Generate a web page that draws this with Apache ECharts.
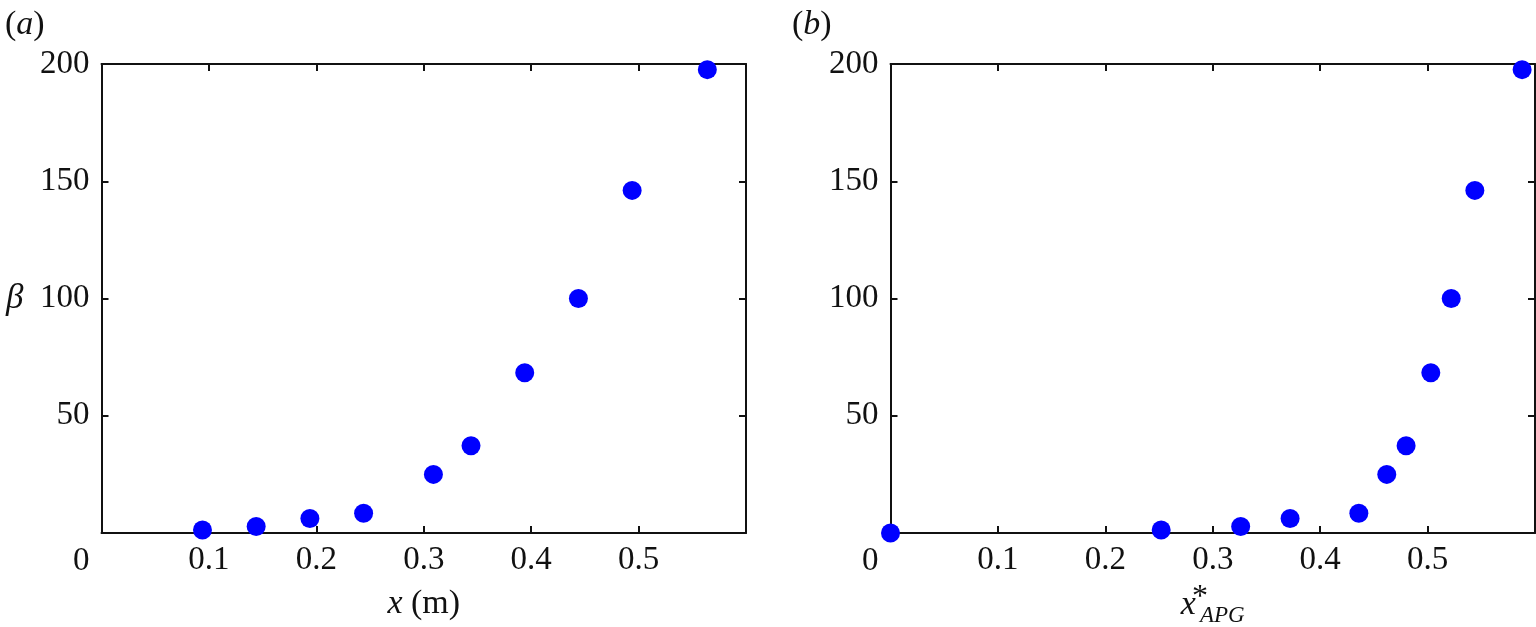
<!DOCTYPE html>
<html lang="en">
<head>
    <meta charset="UTF-8">
    <title>beta vs x</title>
    <script src="https://cdn.jsdelivr.net/npm/echarts@6/dist/echarts.min.js"></script>
    <style>
        html, body { margin: 0; padding: 0; background: #fff; }
        #chart { width: 1536px; height: 627px; }
    </style>
</head>
<body>
<div id="chart"></div>
<script type="text/javascript">
    // panel (a): beta against streamwise position x (m)
    var xPos = [0.094, 0.144, 0.194, 0.244, 0.309, 0.344, 0.394, 0.444, 0.494, 0.564];
    var betaA = [1.3, 2.8, 6.2, 8.4, 25.0, 37.2, 68.3, 100.0, 146.1, 197.6];
    // panel (b): beta against x*_APG
    var xApg = [0, 0.252, 0.326, 0.372, 0.436, 0.462, 0.480, 0.503, 0.522, 0.544, 0.588];
    var betaB = [0, 1.3, 2.8, 6.2, 8.4, 25.0, 37.2, 68.3, 100.0, 146.1, 197.6];
    var xTicks = [0, 0.6, 0.1];     // min, max, interval
    var yTicks = [0, 200, 50];

    var chart = echarts.init(document.getElementById('chart'));
    var font = 'Liberation Serif';
    var ink = '#111';

    function pairs(xs, ys) {
        return xs.map(function (v, i) { return [v, ys[i]]; });
    }

    function xLabel(v) {
        return (v > 0.05 && v < 0.55) ? v.toFixed(1) : '';
    }
    function yLabel(v) {
        return v === 0 ? '{z|0}' : String(v);
    }

    var lineStyle = {color: ink, width: 2};
    var textStyle = {fontFamily: font, fontSize: 33, color: ink};

    // x axis pair for one panel: labelled bottom, ticks-only top
    function xAxes(grid, name, nameGap) {
        return [{
            type: 'value', gridIndex: grid, position: 'bottom',
            min: xTicks[0], max: xTicks[1], interval: xTicks[2],
            axisLine: {show: true, onZero: false, lineStyle: lineStyle},
            axisTick: {show: true, inside: true, length: 7, lineStyle: lineStyle},
            splitLine: {show: false},
            axisLabel: Object.assign({formatter: xLabel, margin: 11}, textStyle),
            name: name, nameLocation: 'middle', nameGap: nameGap,
            nameTextStyle: {
                fontFamily: font, fontSize: 33, color: ink,
                rich: {
                    i: {fontFamily: font, fontStyle: 'italic', fontSize: 34, color: ink, lineHeight: 46},
                    r: {fontFamily: font, fontSize: 34, color: ink, lineHeight: 46},
                    sup: {fontFamily: font, fontSize: 32, color: ink, verticalAlign: 'top', lineHeight: 28, width: 0, padding: [0, 0, 0, 4]},
                    sub: {fontFamily: font, fontStyle: 'italic', fontSize: 23, color: ink, verticalAlign: 'bottom', lineHeight: 22}
                }
            }
        }, {
            type: 'value', gridIndex: grid, position: 'top',
            min: xTicks[0], max: xTicks[1], interval: xTicks[2],
            axisLine: {show: true, onZero: false, lineStyle: lineStyle},
            axisTick: {show: true, inside: true, length: 7, lineStyle: lineStyle},
            splitLine: {show: false},
            axisLabel: {show: false}
        }];
    }

    // y axis pair for one panel: labelled left, ticks-only right
    function yAxes(grid, name) {
        return [{
            type: 'value', gridIndex: grid, position: 'left',
            min: yTicks[0], max: yTicks[1], interval: yTicks[2],
            axisLine: {show: true, onZero: false, lineStyle: lineStyle},
            axisTick: {show: true, inside: true, length: 7, lineStyle: lineStyle},
            splitLine: {show: false},
            axisLabel: Object.assign({
                formatter: yLabel, margin: 12,
                rich: {z: {fontFamily: font, fontSize: 33, color: ink, padding: [56, 0, 0, 0]}}
            }, textStyle),
            name: name, nameLocation: 'middle', nameGap: 78, nameRotate: 0,
            nameTextStyle: {fontFamily: font, fontStyle: 'italic', fontSize: 35, color: ink}
        }, {
            type: 'value', gridIndex: grid, position: 'right',
            min: yTicks[0], max: yTicks[1], interval: yTicks[2],
            axisLine: {show: true, onZero: false, lineStyle: lineStyle},
            axisTick: {show: true, inside: true, length: 7, lineStyle: lineStyle},
            splitLine: {show: false},
            axisLabel: {show: false}
        }];
    }

    var panelTitle = {fontFamily: font, fontSize: 34, fontWeight: 'normal', color: ink,
        rich: {i: {fontFamily: font, fontSize: 34, fontStyle: 'italic', color: ink}}};

    var option = {
        backgroundColor: '#fff',
        animation: false,
        title: [
            {text: '({i|a})', left: 0, top: 3, textStyle: panelTitle},
            {text: '({i|b})', left: 787, top: 3, textStyle: panelTitle}
        ],
        grid: [
            {left: 101.5, top: 64, width: 644.5, height: 469, outerBoundsMode: 'none'},
            {left: 890.5, top: 64, width: 644.5, height: 469, outerBoundsMode: 'none'}
        ],
        xAxis: xAxes(0, '{i|x}{r| (m)}', 48).concat(xAxes(1, '{i|x}{sup|*}{sub|APG}', 45)),
        yAxis: yAxes(0, 'β').concat(yAxes(1, '')),
        series: [{
            type: 'scatter', xAxisIndex: 0, yAxisIndex: 0,
            data: pairs(xPos, betaA),
            symbolSize: 19, clip: false,
            itemStyle: {color: '#0000ff', opacity: 1}
        }, {
            type: 'scatter', xAxisIndex: 2, yAxisIndex: 2,
            data: pairs(xApg, betaB),
            symbolSize: 19, clip: false,
            itemStyle: {color: '#0000ff', opacity: 1}
        }]
    };

    chart.setOption(option);
</script>
</body>
</html>
